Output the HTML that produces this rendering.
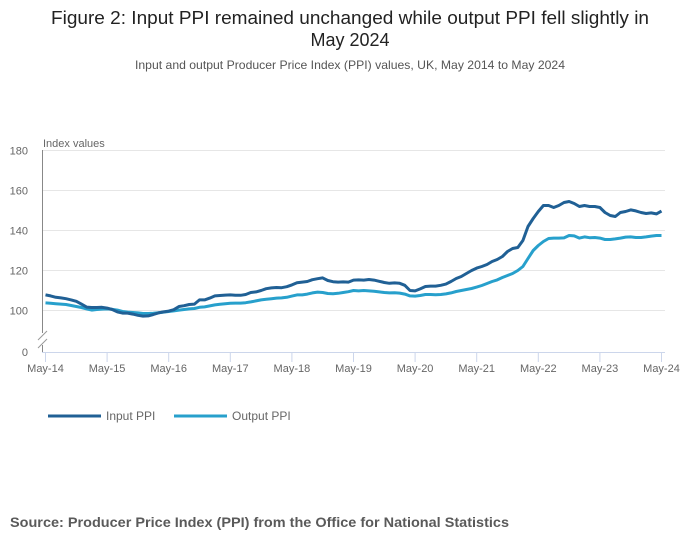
<!DOCTYPE html>
<html><head><meta charset="utf-8"><style>
body{margin:0;background:#fff;width:700px;height:549px;overflow:hidden;font-family:"Liberation Sans",sans-serif}
svg text{font-family:"Liberation Sans",sans-serif}
</style></head><body>
<svg id="chart" width="700" height="549" viewBox="0 0 700 549">
<text x="350" y="24" text-anchor="middle" font-size="18" fill="#222" textLength="598" lengthAdjust="spacingAndGlyphs">Figure 2: Input PPI remained unchanged while output PPI fell slightly in</text>
<text x="350" y="46" text-anchor="middle" font-size="18" fill="#222">May 2024</text>
<text x="350" y="69" text-anchor="middle" font-size="12" fill="#555" textLength="430" lengthAdjust="spacingAndGlyphs">Input and output Producer Price Index (PPI) values, UK, May 2014 to May 2024</text>
<text x="43" y="147" font-size="11" fill="#666">Index values</text>
<g id="grid"></g>
<g id="axes"></g>
<g id="lines"></g>
<g>
<line x1="48" y1="416" x2="101" y2="416" stroke="#206095" stroke-width="3"/>
<text x="106" y="420" font-size="12" fill="#666">Input PPI</text>
<line x1="174" y1="416" x2="227" y2="416" stroke="#27a0cc" stroke-width="3"/>
<text x="232" y="420" font-size="12" fill="#666">Output PPI</text>
</g>
<text x="10" y="527" font-size="14" font-weight="bold" fill="#5a5a5a" textLength="499" lengthAdjust="spacingAndGlyphs">Source: Producer Price Index (PPI) from the Office for National Statistics</text>
</svg>
<script>
const xLabels=["May-14","May-15","May-16","May-17","May-18","May-19","May-20","May-21","May-22","May-23","May-24"];
const yTicks=[100,120,140,160,180];
const inputPPI=[107.8,107.3,106.6,106.3,105.9,105.3,104.6,103.2,101.7,101.5,101.5,101.6,
101.2,100.5,99.3,98.7,98.7,98.2,97.6,97.2,97.3,98,98.8,99.3,
99.7,100.4,102,102.4,103,103.2,105.3,105.3,106.2,107.3,107.5,107.7,
107.8,107.6,107.6,108,109,109.3,110,110.9,111.3,111.5,111.4,111.9,
112.8,113.9,114.2,114.5,115.4,115.9,116.3,115,114.4,114.2,114.3,114.2,
115.2,115.3,115.2,115.5,115.2,114.6,114,113.6,113.8,113.6,112.6,110,
109.8,110.8,112,112.2,112.2,112.6,113.2,114.5,116,117,118.5,120,
121.2,122,123,124.5,125.5,127,129.5,131,131.5,135,142,146,
149.5,152.5,152.5,151.5,152.5,154,154.5,153.5,152,152.5,152,152,
151.5,149,147.5,147,149,149.5,150.3,149.8,149,148.5,148.8,148.3,149.7];
const outputPPI=[103.8,103.6,103.4,103.2,103,102.5,102,101.5,100.8,100.2,100.5,100.7,
100.8,100.6,100.2,99.5,99.2,99,98.8,98.5,98.5,98.6,98.9,99.2,
99.5,99.8,100.2,100.5,100.8,101,101.6,101.8,102.3,102.8,103.1,103.4,
103.6,103.7,103.7,103.9,104.3,104.8,105.3,105.6,105.9,106.2,106.3,106.6,
107.2,107.8,107.8,108.2,108.8,109.2,109,108.5,108.4,108.6,109,109.4,
110,109.8,110,109.8,109.6,109.3,109,108.8,108.9,108.7,108.2,107.3,
107.2,107.5,108,108,107.9,108,108.3,108.8,109.5,110,110.5,111,
111.7,112.5,113.5,114.5,115.3,116.5,117.5,118.5,120,122,126,130,
132.5,134.5,136,136.2,136.2,136.3,137.5,137.3,136.2,136.8,136.4,136.5,
136.2,135.5,135.5,135.8,136.2,136.7,136.8,136.5,136.5,136.8,137.2,137.5,137.5];
const NS="http://www.w3.org/2000/svg";
const x0=45.5,x1=661.5,nMonths=120;
function xs(i){return x0+(x1-x0)*i/nMonths;}
function ys(v){return 310.5-(v-100)*2;}
function mk(tag,attrs,parent){const e=document.createElementNS(NS,tag);for(const k in attrs)e.setAttribute(k,attrs[k]);parent.appendChild(e);return e;}
const grid=document.getElementById('grid'),axes=document.getElementById('axes'),lines=document.getElementById('lines');
yTicks.forEach(v=>{
 const l=mk('line',{x1:43,x2:665,y1:ys(v),y2:ys(v),stroke:'#e6e6e6','stroke-width':1},grid);
 
 
 const t=mk('text',{x:28,y:ys(v)+4,'text-anchor':'end','font-size':11,fill:'#666'},axes);
 t.textContent=v;
 
 
});
const zt=mk('text',{x:28,y:356,'text-anchor':'end','font-size':11,fill:'#666'},axes);zt.textContent='0';


const ya=mk('line',{x1:42.5,x2:42.5,y1:150,y2:333,stroke:'#888','stroke-width':1},axes);


mk('line',{x1:38,y1:340,x2:47,y2:331,stroke:'#999','stroke-width':1},axes);
mk('line',{x1:38,y1:348,x2:47,y2:339,stroke:'#999','stroke-width':1},axes);
mk('line',{x1:42.5,x2:42.5,y1:345,y2:352,stroke:'#888','stroke-width':1},axes);
const xa=mk('line',{x1:42,x2:665,y1:352.5,y2:352.5,stroke:'#ccd6eb','stroke-width':1},axes);


xLabels.forEach((lab,k)=>{
 const x=xs(k*12);
 mk('line',{x1:x,x2:x,y1:352,y2:362,stroke:'#ccd6eb','stroke-width':1},axes);
 const t=mk('text',{x:x,y:372,'text-anchor':'middle','font-size':11,fill:'#666'},axes);
 t.textContent=lab;
 
 
});
function path(arr){return arr.map((v,i)=>(i?'L':'M')+xs(i).toFixed(1)+','+ys(v).toFixed(1)).join('');}
const po=mk('path',{d:path(outputPPI),fill:'none',stroke:'#27a0cc','stroke-width':3,'stroke-linejoin':'round'},lines);


const pi=mk('path',{d:path(inputPPI),fill:'none',stroke:'#206095','stroke-width':3,'stroke-linejoin':'round'},lines);


</script>
</body></html>
